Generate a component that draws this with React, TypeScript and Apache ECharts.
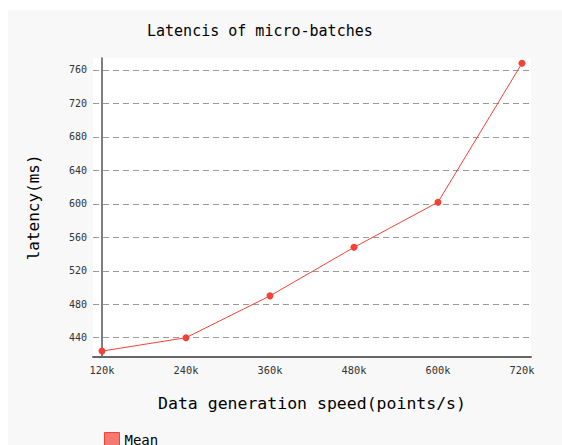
import React, { useEffect, useRef } from "react";
import * as echarts from "echarts";

const speeds = [120, 240, 360, 480, 600, 720];
const meanLatency = [424, 440, 490, 548, 602, 768];
const yTicks = [440, 480, 520, 560, 600, 640, 680, 720, 760];
const seriesName = "Mean";

const FONT = "DejaVu Sans Mono";

export default function App() {
  const ref = useRef<HTMLDivElement>(null);
  useEffect(() => {
    if (!ref.current) return;
    const chart = echarts.init(ref.current, null, { renderer: "svg" });
    chart.setOption({
      animation: false,
      backgroundColor: "#f8f8f8",
      title: {
        text: "Latencis of micro-batches",
        left: 139,
        top: 13,
        padding: 0,
        textStyle: { fontFamily: FONT, fontSize: 15, fontWeight: "normal", color: "#000" },
      },
      legend: {
        left: 96,
        top: 422,
        padding: 0,
        icon: "rect",
        itemWidth: 15,
        itemHeight: 15,
        itemGap: 5,
        textStyle: { fontFamily: FONT, fontSize: 14, color: "#000" },
        data: [{ name: seriesName, itemStyle: { color: "rgba(244,67,54,0.7)", borderColor: "#f44336", borderWidth: 1 } }],
      },
      grid: {
        left: 85,
        right: 31,
        top: 48,
        bottom: 88.3,
        show: true,
        backgroundColor: "#fff",
        borderWidth: 0,
      },
      xAxis: {
        type: "value",
        min: 107.14,
        max: 732.86,
        name: "Data generation speed(points/s)",
        nameLocation: "middle",
        nameGap: 38,
        nameTextStyle: { fontFamily: FONT, fontSize: 16.5, color: "#000" },
        axisLine: { show: true, lineStyle: { color: "#666", width: 2 } },
        axisTick: { show: false },
        splitLine: { show: false },
        axisLabel: {
          customValues: speeds,
          formatter: (v: number) => `${v}k`,
          fontFamily: FONT,
          fontSize: 10.3,
          color: "#333",
          margin: 8,
        },
      },
      yAxis: {
        type: "value",
        min: 417.3,
        max: 774.3,
        offset: -9,
        name: "latency(ms)",
        nameLocation: "middle",
        nameGap: 61,
        nameTextStyle: { fontFamily: FONT, fontSize: 16, color: "#000" },
        axisLine: { show: true, lineStyle: { color: "#555", width: 1.5 } },
        axisTick: { show: false, customValues: yTicks },
        axisLabel: {
          customValues: yTicks,
          fontFamily: FONT,
          fontSize: 10,
          color: "#333",
          margin: 15,
        },
        splitLine: {
          show: true,
          customValues: yTicks,
          lineStyle: { color: "#999", type: [6, 4], width: 1 },
        },
      },
      series: [
        {
          name: seriesName,
          type: "line",
          data: speeds.map((s, i) => [s, meanLatency[i]]),
          symbol: "circle",
          symbolSize: 7,
          itemStyle: { color: "#f44336" },
          lineStyle: { color: "#f44336", width: 1 },
        },
      ],
    });
    return () => chart.dispose();
  }, []);
  return (
    <div
      ref={ref}
      style={{ position: "absolute", left: 8, top: 10, width: 554, height: 435 }}
    />
  );
}
